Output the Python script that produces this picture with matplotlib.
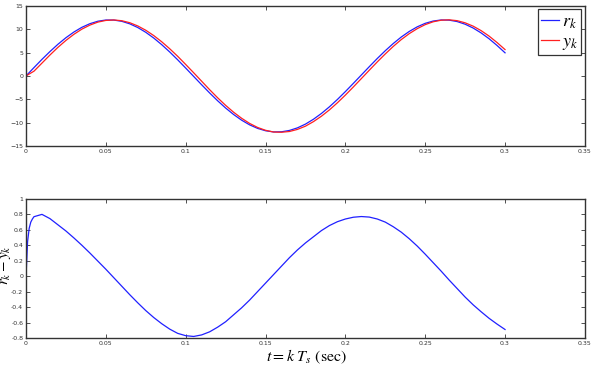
import matplotlib
matplotlib.use('Agg')

import numpy as np
import matplotlib.pyplot as plt

plt.rcParams['mathtext.fontset'] = 'stix'
plt.rcParams['font.family'] = 'DejaVu Sans'

# Tiempos de muestreo t = k*Ts (Ts = 0.005 s)
t = np.linspace(0, 0.3, 61)

r_k = [0.00, 1.79, 3.55, 5.22, 6.78, 8.18, 9.40, 10.41, 11.18, 11.71,
       11.97, 11.96, 11.69, 11.15, 10.36, 9.34, 8.11, 6.69, 5.13, 3.45,
       1.69, -0.10, -1.89, -3.64, -5.31, -6.86, -8.25, -9.46, -10.46, -11.22,
       -11.73, -11.98, -11.95, -11.66, -11.11, -10.31, -9.27, -8.03, -6.61, -5.04,
       -3.35, -1.59, 0.20, 1.99, 3.74, 5.40, 6.94, 8.33, 9.52, 10.51,
       11.26, 11.75, 11.98, 11.94, 11.64, 11.07, 10.26, 9.21, 7.96, 6.52,
       4.95]

# Salida y_k (curva roja)
y_k = [0.00, 1.02, 2.75, 4.48, 6.12, 7.60, 8.91, 10.02, 10.88, 11.52,
       11.88, 11.98, 11.82, 11.39, 10.70, 9.78, 8.64, 7.31, 5.82, 4.20,
       2.46, 0.68, -1.13, -2.94, -4.67, -6.29, -7.76, -9.05, -10.15, -11.02,
       -11.63, -12.00, -12.05, -11.89, -11.44, -10.75, -9.78, -8.62, -7.27, -5.75,
       -4.10, -2.36, -0.57, 1.23, 3.01, 4.71, 6.32, 7.78, 9.05, 10.12,
       10.98, 11.59, 11.93, 12.01, 11.83, 11.37, 10.66, 9.70, 8.53, 7.15,
       5.64]

# Error r_k - y_k (gráfico inferior), con puntos extra al inicio
t_err_inicio = [0.0, 0.0005, 0.001, 0.002, 0.003, 0.004]
err_inicio = [0.00, 0.22, 0.45, 0.62, 0.70, 0.74]
err = [0.77, 0.80, 0.745, 0.665, 0.585, 0.495, 0.40, 0.30, 0.195,
       0.09, -0.02, -0.13, -0.24, -0.345, -0.445, -0.535, -0.615, -0.685, -0.74,
       -0.77, -0.78, -0.76, -0.72, -0.66, -0.59, -0.50, -0.41, -0.31, -0.20,
       -0.09, 0.02, 0.13, 0.24, 0.34, 0.43, 0.51, 0.59, 0.655, 0.705,
       0.74, 0.763, 0.772, 0.765, 0.74, 0.70, 0.64, 0.57, 0.485, 0.39,
       0.285, 0.175, 0.065, -0.05, -0.16, -0.27, -0.37, -0.46, -0.545, -0.62,
       -0.69]
t_err = np.concatenate([t_err_inicio, t[1:]])
err_total = np.concatenate([err_inicio, err])

x_ticks = [0, 0.05, 0.1, 0.15, 0.2, 0.25, 0.3, 0.35]
x_labels = ['0', '0.05', '0.1', '0.15', '0.2', '0.25', '0.3', '0.35']
y1_ticks = [-15, -10, -5, 0, 5, 10, 15]
y2_ticks = [-0.8, -0.6, -0.4, -0.2, 0, 0.2, 0.4, 0.6, 0.8, 1]
y2_labels = ['-0.8', '-0.6', '-0.4', '-0.2', '0', '0.2', '0.4', '0.6', '0.8', '1']

fig = plt.figure(figsize=(5.95, 3.66), dpi=100)
ax1 = fig.add_axes([0.0437, 0.601, 0.9393, 0.383])
ax2 = fig.add_axes([0.0437, 0.0765, 0.9393, 0.380])


def estilo(ax):
    ax.tick_params(direction='in', top=True, right=True, length=3, width=0.6,
                   labelsize=4.5, colors='#333333', pad=2)
    for s in ax.spines.values():
        s.set_linewidth(1.0)
        s.set_color('#333333')
    ax.set_xlim(0, 0.35)
    ax.set_xticks(x_ticks)
    ax.set_xticklabels(x_labels)


ax1.plot(t, r_k, color='#2020ff', lw=0.9, label='$r_k$')
ax1.plot(t, y_k, color='#ff2020', lw=0.9, label='$y_k$')
estilo(ax1)
ax1.set_ylim(-15, 15)
ax1.set_yticks(y1_ticks)
leg = ax1.legend(loc='upper right', fontsize=13, handlelength=1.0,
                 handletextpad=0.2, borderpad=0.15, labelspacing=0.1,
                 borderaxespad=0.2, fancybox=False, framealpha=1)
leg.get_frame().set_edgecolor('#333333')
leg.get_frame().set_linewidth(0.9)

ax2.plot(t_err, err_total, color='#2020ff', lw=0.9)
estilo(ax2)
ax2.set_ylim(-0.8, 1)
ax2.set_yticks(y2_ticks)
ax2.set_yticklabels(y2_labels)

fig.text(0.009, 0.275, '$r_k - y_k$', rotation=90, fontsize=11,
         ha='center', va='center')
fig.text(0.515, 0.026, r'$t = k\ T_s\ \mathrm{(sec)}$', fontsize=11.5,
         ha='center', va='center')

plt.savefig('out.png', dpi=100)
plt.close()
